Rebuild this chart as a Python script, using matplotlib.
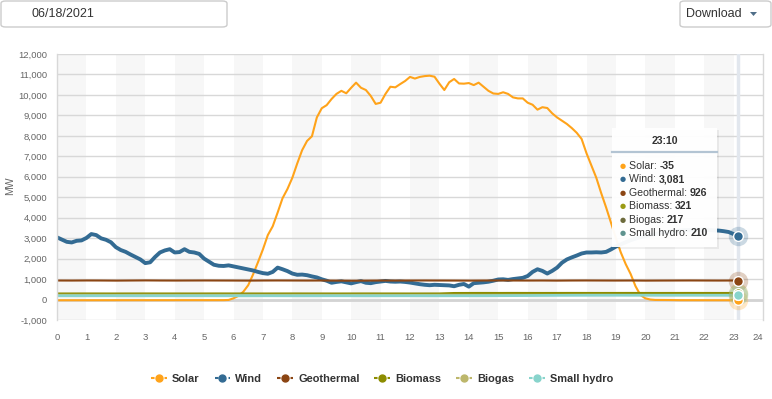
import numpy as np
import matplotlib
matplotlib.use('Agg')
import matplotlib.pyplot as plt
from matplotlib.lines import Line2D
from matplotlib.patches import FancyBboxPatch, Rectangle, Polygon
from matplotlib.ticker import FuncFormatter

W, H = 772, 399

series_names = ['Solar', 'Wind', 'Geothermal', 'Biomass', 'Biogas', 'Small hydro']
series_colors = ['#ffa31a', '#336b93', '#8b4513', '#8c8c00', '#bdb76b', '#88d4cc']
tooltip_dot_colors = ['#ffa31a', '#336b93', '#8b4513', '#9a9a14', '#6d6b3c', '#5f938f']

date_label = '06/18/2021'
tooltip_title = '23:10'

# 10-minute readings (MW), 00:00 .. 23:10
minutes_10 = np.arange(140) * 10

solar = [
    -35, -35, -35, -35, -35, -35,
    -35, -35, -35, -35, -35, -35,
    -35, -35, -36, -36, -36, -36,
    -36, -36, -36, -36, -36, -36,
    -36, -36, -36, -36, -36, -36,
    -35, -35, -35, -34, -30, -20,
    60, 180, 380, 700, 1230, 1830,
    2450, 3150, 3580, 4250, 4950, 5400,
    5950, 6650, 7300, 7750, 7980, 8900,
    9350, 9500, 9800, 10050, 10200, 10080,
    10350, 10600, 10350, 10240, 9950, 9560,
    9620, 10050, 10400, 10370, 10530, 10680,
    10880, 10800, 10880, 10920, 10940, 10890,
    10550, 10240, 10620, 10780, 10560, 10550,
    10580, 10480, 10600, 10400, 10200, 10070,
    10050, 10130, 10050, 9880, 9830, 9830,
    9620, 9520, 9280, 9400, 9360, 9100,
    8900, 8740, 8580, 8380, 8150, 7850,
    7150, 6550, 5950, 5200, 4500, 3750,
    3000, 2300, 1730, 1250, 650, 220,
    60, 0, -20, -20, -22, -25,
    -30, -32, -33, -34, -35, -35,
    -35, -35, -35, -35, -35, -35,
    -35, -35,
]

wind = [
    3040, 2930, 2820, 2790, 2870, 2890,
    3010, 3200, 3150, 2990, 2920, 2800,
    2560, 2420, 2330, 2200, 2080, 1960,
    1780, 1820, 2080, 2300, 2400, 2460,
    2300, 2320, 2460, 2330, 2300, 2230,
    2000, 1850, 1700, 1650, 1640, 1670,
    1620, 1570, 1520, 1470, 1420, 1350,
    1290, 1260, 1350, 1560, 1480, 1390,
    1270, 1210, 1220, 1190, 1130, 1080,
    990, 920, 820, 860, 890, 840,
    790, 850, 900, 820, 800, 850,
    880, 910, 880, 870, 880, 860,
    830, 790, 750, 720, 700, 720,
    710, 700, 690, 650, 720, 760,
    630, 800, 820, 840, 870, 920,
    980, 990, 960, 1000, 1030, 1060,
    1150, 1350, 1480, 1400, 1270, 1400,
    1560, 1800, 1960, 2060, 2150, 2250,
    2300, 2300, 2310, 2300, 2330, 2450,
    2590, 2700, 2800, 2900, 2980, 3050,
    3100, 3150, 3200, 3250, 3280, 3320,
    3350, 3370, 3390, 3400, 3410, 3420,
    3420, 3400, 3380, 3370, 3340, 3300,
    3200, 3081,
]

# half-hourly readings (MW), 00:00 .. 23:00 plus 23:10
minutes_30 = list(range(0, 1381, 30)) + [1390]

geothermal = [
    930, 928, 932, 930, 925, 930, 935, 930, 928, 930, 932, 930,
    928, 925, 930, 932, 930, 928, 930, 925, 920, 925, 930, 928,
    930, 932, 930, 928, 925, 930, 932, 930, 928, 930, 925, 930,
    932, 930, 928, 930, 925, 928, 930, 932, 930, 928, 930, 926,
]

biomass = [
    295, 295, 296, 295, 294, 295, 296, 295, 295, 294, 295, 296,
    295, 295, 294, 295, 296, 295, 295, 294, 295, 296, 295, 295,
    294, 295, 296, 318, 320, 321, 320, 322, 321, 320, 321, 322,
    321, 320, 321, 322, 321, 320, 321, 322, 321, 320, 321, 321,
]

biogas = [
    228, 228, 229, 228, 227, 228, 229, 228, 228, 227, 228, 229,
    228, 228, 227, 228, 229, 228, 228, 227, 228, 229, 228, 228,
    227, 228, 229, 228, 228, 227, 228, 229, 228, 228, 227, 228,
    229, 228, 225, 222, 220, 219, 218, 218, 217, 217, 217, 217,
]

small_hydro = [
    185, 185, 184, 185, 186, 185, 184, 185, 185, 186, 185, 184,
    185, 185, 186, 185, 184, 185, 185, 186, 185, 184, 185, 185,
    186, 185, 184, 185, 186, 188, 190, 192, 195, 200, 204, 206,
    208, 209, 210, 210, 211, 210, 210, 211, 210, 210, 210, 210,
]


def fx(px):
    return px / W


def fy(py):
    return 1 - py / H


def main():
    plt.rcParams['font.family'] = ['Liberation Sans', 'DejaVu Sans']

    fig = plt.figure(figsize=(W / 100, H / 100), dpi=100)
    ax = fig.add_axes([fx(57), fy(320), fx(763) - fx(57), fy(54) - fy(320)])

    draw_chart(ax)
    draw_header(fig)
    draw_legend(fig)
    draw_tooltip(fig)

    fig.savefig('out.png', dpi=100)


def draw_chart(ax):
    x10 = minutes_10 / 60
    x30 = np.array(minutes_30) / 60
    series = [
        (x10, solar, 1.5),
        (x10, wind, 2.8),
        (x30, geothermal, 1.5),
        (x30, biomass, 1.5),
        (x30, biogas, 1.5),
        (x30, small_hydro, 2.0),
    ]

    # alternating hour bands
    for h in range(0, 24, 2):
        ax.axvspan(h, h + 1, color='#f7f7f7', lw=0, zorder=0)

    ax.set_xlim(0, 24)
    ax.set_ylim(-1000, 12000)
    ax.set_yticks(range(-1000, 12001, 1000))
    ax.set_xticks(range(0, 25))
    ax.grid(axis='y', color='#d8d8d8', lw=1, zorder=0.5)
    ax.set_axisbelow(True)
    ax.axhline(0, color='#d3d3d3', lw=2, zorder=0.6)
    ax.axvline(x10[-1], color='#e2e7ee', lw=2.5, zorder=0.7)

    for (x, y, lw), c in zip(series, series_colors):
        ax.plot(x, y, color=c, lw=lw, zorder=2, solid_joinstyle='round')

    # hover markers at the last point
    for (x, y, lw), c in zip(series, series_colors):
        ax.plot(x[-1], y[-1], 'o', ms=14, color=c, alpha=0.25, mec='none',
                zorder=3, clip_on=False)
        ax.plot(x[-1], y[-1], 'o', ms=7, color=c, mec='white', mew=1,
                zorder=4, clip_on=False)

    ax.yaxis.set_major_formatter(FuncFormatter(lambda v, p: f'{v:,.0f}'))
    ax.tick_params(length=0, labelsize=6.8, labelcolor='#666666')
    ax.tick_params(axis='x', pad=9)
    ax.tick_params(axis='y', pad=7)
    ax.get_xticklabels()[-1].set_ha('right')

    for s in ['top', 'bottom']:
        ax.spines[s].set_visible(False)
    for s in ['left', 'right']:
        ax.spines[s].set_color('#d8d8d8')
        ax.spines[s].set_linewidth(1)

    ax.figure.text(fx(10), fy(186), 'MW', rotation=90, ha='center', va='center',
                   fontsize=7.5, color='#666666')


def draw_header(fig):
    # date picker box
    fig.add_artist(FancyBboxPatch((fx(1), fy(27)), fx(226), fy(1) - fy(27),
                                  boxstyle='round,pad=0,rounding_size=0.006',
                                  fc='white', ec='#cccccc', lw=1,
                                  transform=fig.transFigure))
    fig.text(fx(63), fy(14), date_label, ha='center', va='center',
             fontsize=9, color='#333333')

    # download button
    fig.add_artist(FancyBboxPatch((fx(680), fy(27)), fx(91), fy(1) - fy(27),
                                  boxstyle='round,pad=0,rounding_size=0.006',
                                  fc='white', ec='#cccccc', lw=1,
                                  transform=fig.transFigure))
    fig.text(fx(686), fy(14), 'Download', ha='left', va='center',
             fontsize=9, color='#333333')
    fig.add_artist(Polygon([(fx(750), fy(12)), (fx(757), fy(12)), (fx(753.5), fy(16))],
                           closed=True, fc='#4f6e88', ec='none',
                           transform=fig.transFigure))


def draw_legend(fig):
    handles = [Line2D([0], [0], color=c, lw=1.5, ls=(0.5, (2.2, 1.3)), marker='o', ms=5)
               for c in series_colors]
    leg = fig.legend(handles, series_names, ncol=6, frameon=False,
                     loc='center', bbox_to_anchor=(fx(382), fy(379)),
                     fontsize=7.9, handlelength=1.45, handletextpad=0.45,
                     columnspacing=1.35, borderaxespad=0)
    for t in leg.get_texts():
        t.set_fontweight('bold')
        t.set_color('#333333')


def draw_tooltip(fig):
    x0, y0, x1, y1 = 612, 128, 717, 247
    fig.add_artist(Rectangle((fx(x0 + 1.5), fy(y1 + 1.5)), fx(x1 - x0), fy(y0) - fy(y1),
                             fc='#000000', alpha=0.06, ec='none',
                             transform=fig.transFigure, zorder=5))
    fig.add_artist(Rectangle((fx(x0), fy(y1)), fx(x1 - x0), fy(y0) - fy(y1),
                             fc='white', alpha=0.96, ec='none',
                             transform=fig.transFigure, zorder=6))
    fig.add_artist(Line2D([fx(x0), fx(x1)], [fy(152), fy(152)], color='#b3c4d3',
                          lw=1.6, transform=fig.transFigure, zorder=7))
    fig.text(fx((x0 + x1) / 2), fy(141), tooltip_title, ha='center', va='center',
             fontsize=7.6, fontweight='bold', color='#333333', zorder=8)

    last_values = [solar[-1], wind[-1], geothermal[-1], biomass[-1],
                   biogas[-1], small_hydro[-1]]
    renderer = fig.canvas.get_renderer()
    for i, (name, val, c) in enumerate(zip(series_names, last_values, tooltip_dot_colors)):
        ty = 166 + i * 13.4
        fig.text(fx(623), fy(ty), '\u25cf', ha='center', va='center',
                 fontsize=5, color=c, family='DejaVu Sans', zorder=8)
        t = fig.text(fx(629), fy(ty), f'{name}: ', ha='left', va='center',
                     fontsize=7.6, color='#333333', zorder=8)
        bb = t.get_window_extent(renderer)
        fig.text(bb.x1 / W, fy(ty), f'{val:,}', ha='left', va='center',
                 fontsize=7.6, fontweight='bold', color='#333333', zorder=8)


if __name__ == '__main__':
    main()
